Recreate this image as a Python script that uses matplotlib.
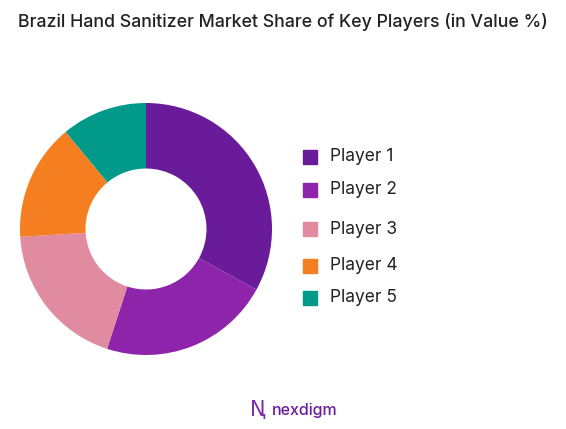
import matplotlib
matplotlib.use("Agg")
import matplotlib.pyplot as plt
from matplotlib.patches import Rectangle

labels = ["Player 1", "Player 2", "Player 3", "Player 4", "Player 5"]
values = [33, 22, 19, 15, 11]
colors = ["#6A1B9A", "#8E24AA", "#E08BA0", "#F57F20", "#00998A"]

W, H = 566, 429
fig = plt.figure(figsize=(W/100, H/100), dpi=100)
fig.patch.set_facecolor("white")

cx, cy, r = 146, 229, 126
ax = fig.add_axes([(cx-r)/W, 1-(cy+r)/H, 2*r/W, 2*r/H])
ax.pie(values, colors=colors, startangle=90, counterclock=False,
       wedgeprops=dict(width=0.52, edgecolor="none"))
ax.set_xlim(-1, 1)
ax.set_ylim(-1, 1)
ax.set_aspect("equal")

fig.text(18/W, 1-22/H, "Brazil Hand Sanitizer Market Share of Key Players (in Value %)",
         fontsize=12.8, family="Inter", weight="medium", color="#222222", va="center", ha="left")

ys = [157, 190, 229, 266, 298]
for lab, col, y in zip(labels, colors, ys):
    fig.patches.append(Rectangle((303/W, 1-(y+7)/H), 14/W, 14/H,
                                 transform=fig.transFigure, color=col))
    fig.text(330/W, 1-y/H, lab, fontsize=12.5, family="Inter", color="#222222",
             va="center", ha="left")

fig.text(258/W, 1-410/H, "Ꞑ", fontsize=15, color="#7B2FA8", va="center", ha="center")
fig.text(272/W, 1-410/H, "nexdigm", fontsize=11.5, family="Inter", weight="medium",
         color="#6A1B9A", va="center", ha="left")

fig.savefig("out.png", dpi=100, facecolor="white")
